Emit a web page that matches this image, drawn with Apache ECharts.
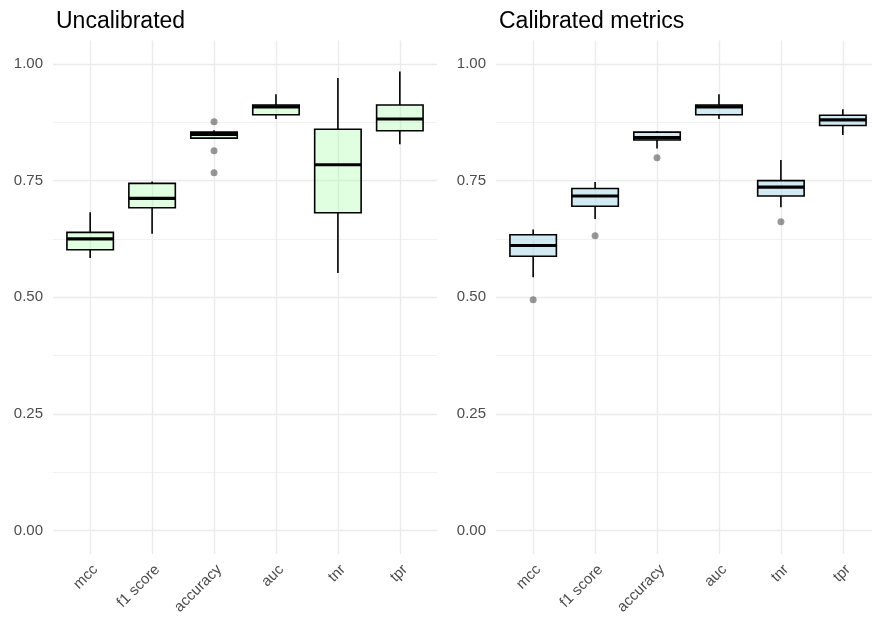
<!DOCTYPE html>
<html>
<head>
<meta charset="utf-8">
<script src="https://cdn.jsdelivr.net/npm/echarts@6/dist/echarts.min.js"></script>
<style>
  html, body { margin: 0; padding: 0; background: #fff; }
  #chart { width: 872px; height: 622px; }
</style>
</head>
<body>
<div id="chart"></div>
<script>
// Metric names on the x axis
const categories = ['mcc', 'f1 score', 'accuracy', 'auc', 'tnr', 'tpr'];

// Uncalibrated model: five-number summaries per metric
const uncalLower  = [0.584, 0.636, 0.840, 0.882, 0.552, 0.828];
const uncalQ1     = [0.602, 0.692, 0.841, 0.891, 0.681, 0.857];
const uncalMedian = [0.625, 0.712, 0.849, 0.908, 0.784, 0.882];
const uncalQ3     = [0.639, 0.744, 0.854, 0.912, 0.860, 0.912];
const uncalUpper  = [0.682, 0.748, 0.858, 0.935, 0.970, 0.984];
const uncalOutlierMetric = ['accuracy', 'accuracy', 'accuracy'];
const uncalOutlierValue  = [0.876, 0.814, 0.767];

// Calibrated model: five-number summaries per metric
const calLower  = [0.543, 0.668, 0.819, 0.882, 0.693, 0.848];
const calQ1     = [0.588, 0.695, 0.837, 0.891, 0.717, 0.868];
const calMedian = [0.611, 0.717, 0.842, 0.908, 0.736, 0.880];
const calQ3     = [0.634, 0.733, 0.854, 0.912, 0.750, 0.890];
const calUpper  = [0.645, 0.747, 0.856, 0.935, 0.794, 0.903];
const calOutlierMetric = ['mcc', 'f1 score', 'accuracy', 'tnr'];
const calOutlierValue  = [0.495, 0.632, 0.799, 0.662];

// Axis ticks
const yMajorTicks = [0, 0.25, 0.5, 0.75, 1];
const yMinorTicks = [0.125, 0.375, 0.625, 0.875];

const FONT = "'Liberation Sans', Arial, Helvetica, sans-serif";
const GRID_COLOR = '#ebebeb';
const TEXT_COLOR = '#4d4d4d';

function boxRows(lo, q1, md, q3, hi) {
  return categories.map((c, i) => [i, lo[i], q1[i], md[i], q3[i], hi[i]]);
}
function outlierRows(metrics, values) {
  return metrics.map((m, i) => [categories.indexOf(m), values[i]]);
}

// Box, whiskers and a heavy median bar, all placed through the axis scales
function makeRenderer(fill) {
  return function (params, api) {
    const x = api.value(0);
    const lo = api.coord([x, api.value(1)]);
    const q1 = api.coord([x, api.value(2)]);
    const md = api.coord([x, api.value(3)]);
    const q3 = api.coord([x, api.value(4)]);
    const hi = api.coord([x, api.value(5)]);
    const half = api.size([0.75, 0])[0] / 2;
    const stroke = { stroke: '#000', lineWidth: 1.6 };
    return {
      type: 'group',
      children: [
        { type: 'line', shape: { x1: lo[0], y1: lo[1], x2: q1[0], y2: q1[1] }, style: stroke },
        { type: 'line', shape: { x1: q3[0], y1: q3[1], x2: hi[0], y2: hi[1] }, style: stroke },
        { type: 'rect', shape: { x: q3[0] - half, y: q3[1], width: half * 2, height: q1[1] - q3[1] },
          style: { fill: fill, stroke: '#000', lineWidth: 1.6 } },
        { type: 'line', shape: { x1: md[0] - half, y1: md[1], x2: md[0] + half, y2: md[1] },
          style: { stroke: '#000', lineWidth: 3.2 } }
      ]
    };
  };
}

function xAxisFor(gridIndex) {
  const idx = categories.map((c, i) => i);
  return {
    type: 'value', gridIndex: gridIndex, min: -0.6, max: 5.6,
    axisLine: { show: false },
    axisTick: { show: false, customValues: idx },
    axisLabel: {
      customValues: idx, rotate: 45, margin: 8, verticalAlign: 'top',
      formatter: v => categories[Math.round(v)],
      color: TEXT_COLOR, fontSize: 15, fontFamily: FONT
    },
    splitLine: { show: true, lineStyle: { color: GRID_COLOR, width: 1.4 } }
  };
}
function yAxisMajor(gridIndex) {
  return {
    type: 'value', gridIndex: gridIndex, min: -0.05, max: 1.05, position: 'left',
    alignTicks: false,
    axisLine: { show: false },
    axisTick: { show: false, customValues: yMajorTicks },
    axisLabel: {
      customValues: yMajorTicks, margin: 10,
      formatter: v => v.toFixed(2),
      color: TEXT_COLOR, fontSize: 15, fontFamily: FONT
    },
    splitLine: { show: true, lineStyle: { color: GRID_COLOR, width: 1.4 } }
  };
}
function yAxisMinor(gridIndex) {
  return {
    type: 'value', gridIndex: gridIndex, min: -0.05, max: 1.05, position: 'left',
    alignTicks: false,
    axisLine: { show: false },
    axisTick: { show: false, customValues: yMinorTicks },
    axisLabel: { show: false, customValues: yMinorTicks },
    splitLine: { show: true, lineStyle: { color: GRID_COLOR, width: 0.7 } }
  };
}

const chart = echarts.init(document.getElementById('chart'), null, { renderer: 'canvas' });

chart.setOption({
  animation: false,
  backgroundColor: '#ffffff',
  title: [
    { text: 'Uncalibrated', left: 51, top: 5,
      textStyle: { fontFamily: FONT, fontSize: 23, fontWeight: 'normal', color: '#000' } },
    { text: 'Calibrated metrics', left: 494, top: 5,
      textStyle: { fontFamily: FONT, fontSize: 23, fontWeight: 'normal', color: '#000' } }
  ],
  grid: [
    { left: 53, top: 40.6, width: 384, height: 513.4, outerBoundsMode: 'none', containLabel: false },
    { left: 496, top: 40.6, width: 384, height: 513.4, outerBoundsMode: 'none', containLabel: false }
  ],
  xAxis: [xAxisFor(0), xAxisFor(1)],
  yAxis: [yAxisMinor(0), yAxisMajor(0), yAxisMinor(1), yAxisMajor(1)],
  series: [
    {
      type: 'custom', xAxisIndex: 0, yAxisIndex: 1,
      renderItem: makeRenderer('rgba(152,251,152,0.30)'),
      encode: { x: 0, y: [1, 2, 3, 4, 5] },
      data: boxRows(uncalLower, uncalQ1, uncalMedian, uncalQ3, uncalUpper),
      z: 3
    },
    {
      type: 'scatter', xAxisIndex: 0, yAxisIndex: 1,
      symbolSize: 7, itemStyle: { color: 'rgba(0,0,0,0.5)' },
      data: outlierRows(uncalOutlierMetric, uncalOutlierValue),
      z: 4
    },
    {
      type: 'custom', xAxisIndex: 1, yAxisIndex: 3,
      renderItem: makeRenderer('rgba(173,216,230,0.55)'),
      encode: { x: 0, y: [1, 2, 3, 4, 5] },
      data: boxRows(calLower, calQ1, calMedian, calQ3, calUpper),
      z: 3
    },
    {
      type: 'scatter', xAxisIndex: 1, yAxisIndex: 3,
      symbolSize: 7, itemStyle: { color: 'rgba(0,0,0,0.5)' },
      data: outlierRows(calOutlierMetric, calOutlierValue),
      z: 4
    }
  ]
});
</script>
</body>
</html>
